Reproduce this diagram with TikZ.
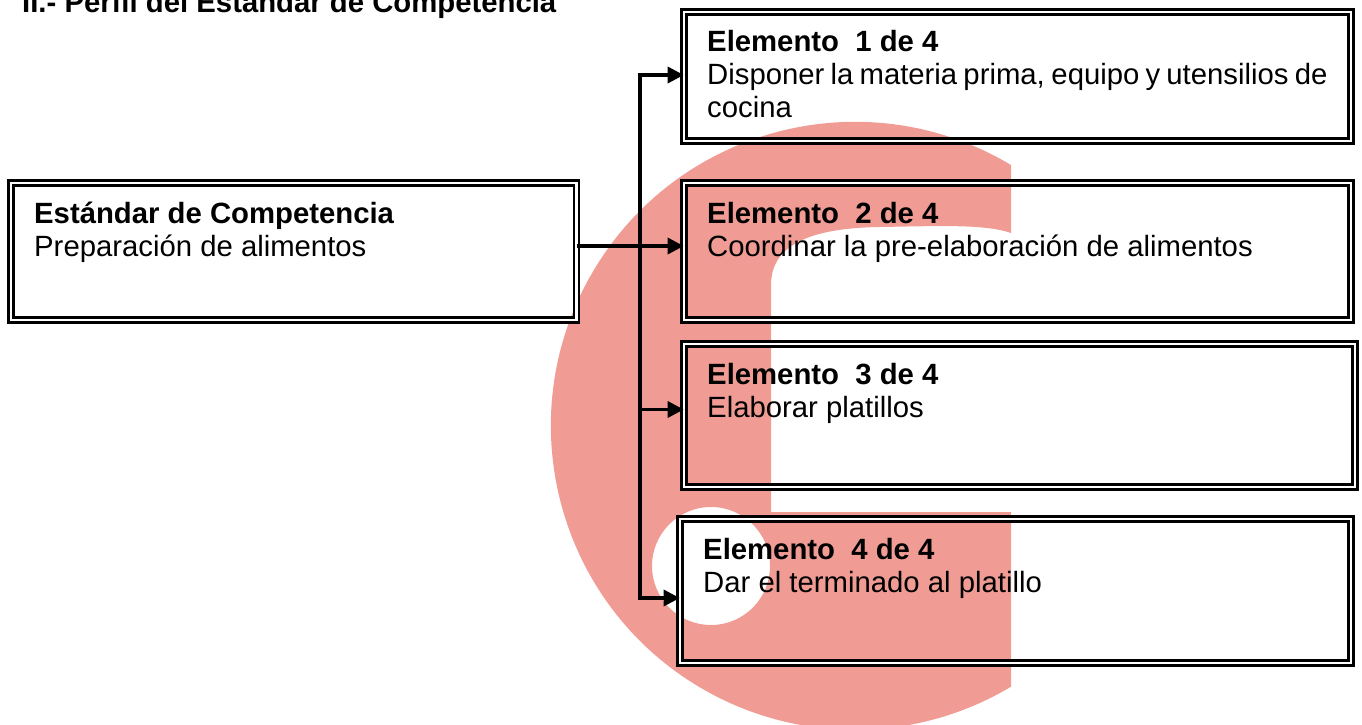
\documentclass[tikz,border=0pt]{standalone}
\usepackage{fontspec}
\setmainfont{Liberation Sans}
\usetikzlibrary{arrows.meta}
\definecolor{marca}{HTML}{F09C94}

\begin{document}
\begin{tikzpicture}[
		x=1pt, y=-1pt,
		every node/.style = {font=\fontsize{29.3}{33}\selectfont},
		X/.style = {rectangle, draw, double, line width=2.6pt, double distance=2.4pt,% double frame of all boxes
			anchor=north west, outer sep=0pt, align=justify,
			inner xsep=23.5pt, inner ysep=20pt, text height=20pt},
		L/.style = {line width=3.4pt, -{Triangle[length=16pt, width=16pt]}},
		]
		\clip (0,0) rectangle (1362,725);
		% watermark behind the boxes
		\fill[marca, even odd rule] (1011,165) arc[start angle=-59.1, end angle=-300.9, radius=304]
			-- (1011,512) -- (771,512) -- (771,285)
			.. controls (771,245) and (810,228) .. (880,227)
			.. controls (940,226) and (985,224) .. (1011,233) -- cycle
			(711,566) circle[radius=59];
		\node[font=\fontsize{29.3}{33}\selectfont\bfseries, anchor=base west, inner sep=0pt] (titulo) at (22,13) {II.- Perfil del Estándar de Competencia};
		\node[X, text width=518.8pt, text depth=77pt] (estandar) at (10.7,183) {\textbf{Estándar de Competencia}\\Preparación de alimentos};
		\node[X, text width=620.3pt, text depth=69pt] (elem1) at (683.7,12) {\textbf{Elemento\ \ 1 de 4}\\Disponer la materia prima, equipo y utensilios de cocina};
		\node[X, text width=620.3pt, text depth=77pt] (elem2) at (683.7,183) {\textbf{Elemento\ \ 2 de 4}\\Coordinar la pre-elaboración de alimentos};
		\node[X, text width=624.3pt, text depth=83pt] (elem3) at (683.7,344) {\textbf{Elemento\ \ 3 de 4}\\Elaborar platillos};
		\node[X, text width=624.3pt, text depth=84pt] (elem4) at (679.7,519) {\textbf{Elemento\ \ 4 de 4}\\Dar el terminado al platillo};
		\coordinate (tronco) at (640,246);
		\draw[L] ([yshift=5.5pt]estandar.east) -- (estandar.east |- tronco) -- (elem2.west |- tronco);
		\draw[L] (tronco) |- ([yshift=1.5pt]elem1.west);
		\draw[L] (tronco) |- ([yshift=6pt]elem3.west);
		\draw[L] (tronco) |- ([yshift=-7pt]elem4.west);
	\end{tikzpicture}
\end{document}
